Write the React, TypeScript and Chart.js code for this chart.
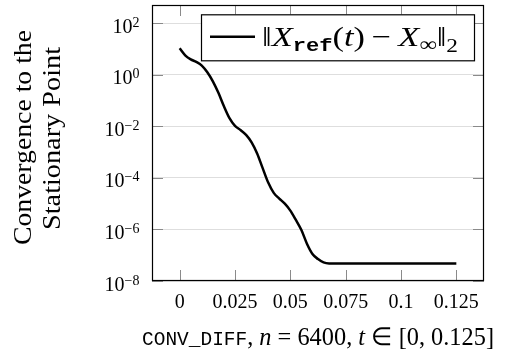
import React, { useEffect, useRef } from 'react';
import { Chart, registerables } from 'chart.js';

Chart.register(...registerables);

// ---- data ----
const times = [
  0, 0.0025, 0.005, 0.0075, 0.01, 0.0125, 0.015, 0.0175, 0.02, 0.0225,
  0.025, 0.0275, 0.03, 0.0325, 0.035, 0.0375, 0.04, 0.0425, 0.045, 0.0475,
  0.05, 0.0525, 0.055, 0.0575, 0.06, 0.0625, 0.065, 0.0675, 0.07, 0.075,
  0.08, 0.085, 0.09, 0.095, 0.1, 0.105, 0.11, 0.115, 0.12, 0.125,
];
const errors = [
  10.7, 5.75, 3.98, 3.16, 2.29, 1.26, 0.562, 0.2, 0.0603, 0.0209,
  0.0105, 7.24e-3, 4.68e-3, 2.4e-3, 8.9e-4, 2.4e-4, 6.6e-5, 2.63e-5, 1.58e-5, 1.0e-5,
  5.4e-6, 2.34e-6, 9.5e-7, 2.8e-7, 1.12e-7, 7.1e-8, 5.25e-8, 4.8e-8, 4.8e-8, 4.8e-8,
  4.8e-8, 4.8e-8, 4.8e-8, 4.8e-8, 4.8e-8, 4.8e-8, 4.8e-8, 4.8e-8, 4.8e-8, 4.8e-8,
];
const xTickValues = [0, 0.025, 0.05, 0.075, 0.1, 0.125];
const xTickLabels = ['0', '0.025', '0.05', '0.075', '0.1', '0.125'];
const yTickValues = [1e-8, 1e-6, 1e-4, 1e-2, 1, 1e2];
const yTickExponents = ['\u22128', '\u22126', '\u22124', '\u22122', '0', '2'];
const yTitleLines = ['Convergence to the', 'Stationary Point'];
const seriesLabel = '\u2016X_ref(t) \u2212 X_\u221E\u2016_2';

const SERIF = '"Liberation Serif", "Times New Roman", serif';
const MONO = '"Liberation Mono", "DejaVu Sans Mono", monospace';

type Seg = { t: string; f: string; dy?: number };

function drawSegs(
  ctx: CanvasRenderingContext2D,
  segs: Seg[],
  x: number,
  y: number,
  align: 'left' | 'center' | 'right',
  targetWidth?: number,
) {
  ctx.textAlign = 'left';
  ctx.textBaseline = 'alphabetic';
  const widths = segs.map((s) => {
    ctx.font = s.f;
    return ctx.measureText(s.t).width;
  });
  const total = widths.reduce((a, b) => a + b, 0);
  const k = targetWidth ? targetWidth / total : 1;
  const w = total * k;
  const start = align === 'left' ? x : align === 'center' ? x - w / 2 : x - w;
  ctx.save();
  ctx.translate(start, y);
  ctx.scale(k, 1);
  let cx = 0;
  segs.forEach((s, i) => {
    ctx.font = s.f;
    ctx.fillText(s.t, cx, s.dy || 0);
    cx += widths[i];
  });
  ctx.restore();
  return w;
}

const overlay = {
  id: 'overlay',
  afterDatasetsDraw(chart: any) {
    const { ctx, chartArea: a, scales } = chart;
    const xs = scales.x;
    const ys = scales.y;
    ctx.save();
    // inner tick marks
    ctx.strokeStyle = '#8a8a8a';
    ctx.lineWidth = 1;
    ctx.beginPath();
    xTickValues.forEach((v) => {
      const px = Math.round(xs.getPixelForValue(v)) + 0.5;
      ctx.moveTo(px, a.bottom);
      ctx.lineTo(px, a.bottom - 11);
      ctx.moveTo(px, a.top);
      ctx.lineTo(px, a.top + 11);
    });
    yTickValues.forEach((v) => {
      const py = Math.round(ys.getPixelForValue(v)) + 0.5;
      ctx.moveTo(a.left, py);
      ctx.lineTo(a.left + 11, py);
      ctx.moveTo(a.right, py);
      ctx.lineTo(a.right - 11, py);
    });
    ctx.stroke();
    // frame
    ctx.strokeStyle = '#000';
    ctx.lineWidth = 1.2;
    ctx.strokeRect(a.left + 0.5, a.top + 0.5, a.right - a.left - 1, a.bottom - a.top - 1);

    ctx.fillStyle = '#000';
    // x tick labels
    ctx.font = `20px ${SERIF}`;
    ctx.textAlign = 'center';
    ctx.textBaseline = 'alphabetic';
    xTickValues.forEach((v, i) => {
      ctx.fillText(xTickLabels[i], xs.getPixelForValue(v), a.bottom + 27);
    });
    // y tick labels
    yTickValues.forEach((v, i) => {
      const py = ys.getPixelForValue(v);
      drawSegs(ctx, [
        { t: '10', f: `20px ${SERIF}`, dy: 9.5 },
        { t: yTickExponents[i], f: `14px ${SERIF}`, dy: 3.5 },
      ], a.left - 12.5, py, 'right');
    });
    // x title
    const xm = (a.left + a.right) / 2;
    drawSegs(ctx, [
      { t: 'CONV_DIFF', f: `20px ${MONO}` },
      { t: ', ', f: `25px ${SERIF}` },
      { t: 'n', f: `italic 25px ${SERIF}` },
      { t: ' = 6400, ', f: `25px ${SERIF}` },
      { t: 't', f: `italic 25px ${SERIF}` },
      { t: ' \u2208 [0, 0.125]', f: `25px ${SERIF}` },
    ], xm, a.bottom + 64, 'center', 352);
    // y title (two rotated lines)
    ctx.textAlign = 'left';
    const lines: [string, number, number, number][] = [
      [yTitleLines[0], 24, 137.5, 215],
      [yTitleLines[1], 53, 138.5, 183],
    ];
    lines.forEach(([t, lx, ly, tw]) => {
      ctx.save();
      ctx.translate(lx, ly);
      ctx.rotate(-Math.PI / 2);
      ctx.textBaseline = 'middle';
      ctx.font = `26px ${SERIF}`;
      const mw = ctx.measureText(t).width;
      ctx.scale(tw / mw, 1);
      ctx.fillText(t, -mw / 2, 0);
      ctx.restore();
    });
    // legend
    const bw = 273;
    const bh = 46;
    const bx = a.right - 10 - bw;
    const by = a.top + 9.3;
    ctx.fillStyle = '#fff';
    ctx.fillRect(bx, by, bw, bh);
    ctx.strokeStyle = '#000';
    ctx.lineWidth = 1.2;
    ctx.strokeRect(bx + 0.5, by + 0.5, bw, bh);
    ctx.beginPath();
    ctx.lineWidth = 2.5;
    ctx.moveTo(bx + 9, by + 22.5);
    ctx.lineTo(bx + 54, by + 22.5);
    ctx.stroke();
    ctx.fillStyle = '#000';
    drawSegs(ctx, [
      { t: '\u2016', f: `28px ${SERIF}` },
      { t: 'X', f: `italic 28px ${SERIF}` },
      { t: 'ref', f: `bold 18px ${MONO}`, dy: 5 },
      { t: '(', f: `28px ${SERIF}` },
      { t: 't', f: `italic 28px ${SERIF}` },
      { t: ')\u2009\u2212\u2009', f: `28px ${SERIF}` },
      { t: 'X', f: `italic 28px ${SERIF}` },
      { t: '\u221E', f: `20px ${SERIF}`, dy: 5 },
      { t: '\u2016', f: `28px ${SERIF}` },
      { t: '2', f: `19px ${SERIF}`, dy: 6 },
    ], bx + 61, by + 32, 'left', 196);
    ctx.restore();
  },
};

export default function App() {
  const ref = useRef<HTMLCanvasElement | null>(null);
  useEffect(() => {
    if (!ref.current) return;
    const chart = new Chart(ref.current, {
      type: 'line',
      data: {
        datasets: [
          {
            label: seriesLabel,
            data: times.map((t, i) => ({ x: t, y: errors[i] })),
            borderColor: '#000',
            backgroundColor: '#000',
            borderWidth: 2.5,
            pointRadius: 0,
            cubicInterpolationMode: 'monotone',
            fill: false,
          },
        ],
      },
      options: {
        animation: false,
        responsive: true,
        maintainAspectRatio: false,
        layout: { padding: { top: 5, right: 47, left: 0, bottom: 0 } },
        plugins: { legend: { display: false }, tooltip: { enabled: false } },
        scales: {
          x: {
            type: 'linear',
            min: -0.0125,
            max: 0.1375,
            grid: { display: false, drawTicks: false },
            border: { display: false },
            ticks: { display: false },
            afterBuildTicks: (s: any) => {
              s.ticks = xTickValues.map((v) => ({ value: v }));
            },
            afterFit: (s: any) => {
              s.height = 77;
            },
          },
          y: {
            type: 'logarithmic',
            min: 1e-8,
            max: 513,
            grid: { color: '#dedede', lineWidth: 1, drawTicks: false },
            border: { display: false },
            ticks: { display: false },
            afterBuildTicks: (s: any) => {
              s.ticks = yTickValues.map((v) => ({ value: v }));
            },
            afterFit: (s: any) => {
              s.width = 152;
            },
          },
        },
      } as any,
      plugins: [overlay],
    });
    return () => chart.destroy();
  }, []);
  return (
    <div style={{ position: 'absolute', left: 0, top: 0, width: 531, height: 358, background: '#fff' }}>
      <canvas ref={ref} />
    </div>
  );
}
